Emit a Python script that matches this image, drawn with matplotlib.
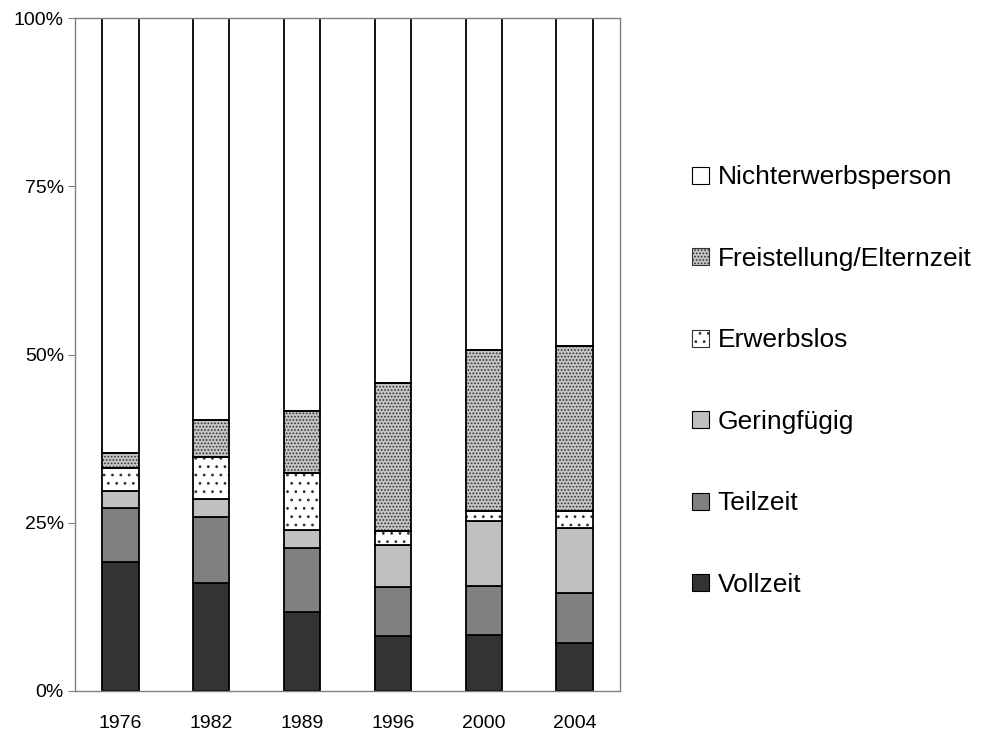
import matplotlib
matplotlib.use("Agg")
import matplotlib.pyplot as plt
import numpy as np
from matplotlib.patches import Patch

plt.rcParams['font.family'] = ['Liberation Sans', 'DejaVu Sans']
plt.rcParams['hatch.linewidth'] = 0.8

years = ["1976", "1982", "1989", "1996", "2000", "2004"]
vollzeit = [19.2, 16.1, 11.8, 8.2, 8.3, 7.1]
teilzeit = [8.0, 9.7, 9.5, 7.3, 7.3, 7.5]
geringfuegig = [2.5, 2.7, 2.6, 6.2, 9.6, 9.6]
erwerbslos = [3.5, 6.3, 8.5, 2.1, 1.5, 2.5]
freistellung = [2.1, 5.4, 9.2, 22.0, 24.0, 24.6]
nichterwerb = [64.7, 59.8, 58.4, 54.2, 49.3, 48.7]

# name, values, face colour, hatch, hatch colour
series = [
    ("Vollzeit", vollzeit, "#333333", None, None),
    ("Teilzeit", teilzeit, "#808080", None, None),
    ("Geringfügig", geringfuegig, "#c0c0c0", None, None),
    ("Erwerbslos", erwerbslos, "white", "..", "#333333"),
    ("Freistellung/Elternzeit", freistellung, "#c4c4c4", ".....", "#333333"),
    ("Nichterwerbsperson", nichterwerb, "white", None, None),
]

fig = plt.figure(figsize=(9.86, 7.33), dpi=100)
ax = fig.add_axes([0.0761, 0.0573, 0.5527, 0.918])

x = np.arange(len(years))
bottom = np.zeros(len(years))
handles = []
for name, vals, color, hatch, hcol in series:
    vals = np.array(vals)
    if hatch:
        ax.bar(x, vals, bottom=bottom, width=0.4, color=color, edgecolor=hcol,
               linewidth=0, hatch=hatch, zorder=2)
        ax.bar(x, vals, bottom=bottom, width=0.4, fill=False, edgecolor="black",
               linewidth=1.3, zorder=3)
        handles.append(Patch(facecolor=color, edgecolor=hcol, hatch=hatch,
                             linewidth=0.8, label=name))
    else:
        ax.bar(x, vals, bottom=bottom, width=0.4, color=color, edgecolor="black",
               linewidth=1.3, zorder=2)
        handles.append(Patch(facecolor=color, edgecolor="black", linewidth=0.8, label=name))
    bottom += vals

ax.set_xlim(-0.5, len(years) - 0.5)
ax.set_ylim(0, 100)
ax.set_xticks(x)
ax.set_xticklabels(years, fontsize=14)
ax.set_yticks([0, 25, 50, 75, 100])
ax.set_yticklabels(["0%", "25%", "50%", "75%", "100%"], fontsize=14)
for s in ax.spines.values():
    s.set_color("#808080")
    s.set_linewidth(1.0)
ax.tick_params(axis="y", length=5, color="#808080", pad=3)
ax.tick_params(axis="x", length=0, pad=17)

fig.legend(handles=handles[::-1], labels=[h.get_label() for h in handles[::-1]],
           loc="center left", bbox_to_anchor=(0.702, 0.480), frameon=False,
           borderpad=0, borderaxespad=0,
           fontsize=19, handlelength=0.62, handleheight=0.62, handletextpad=0.34,
           labelspacing=2.18)

fig.savefig("out.png", dpi=100)
